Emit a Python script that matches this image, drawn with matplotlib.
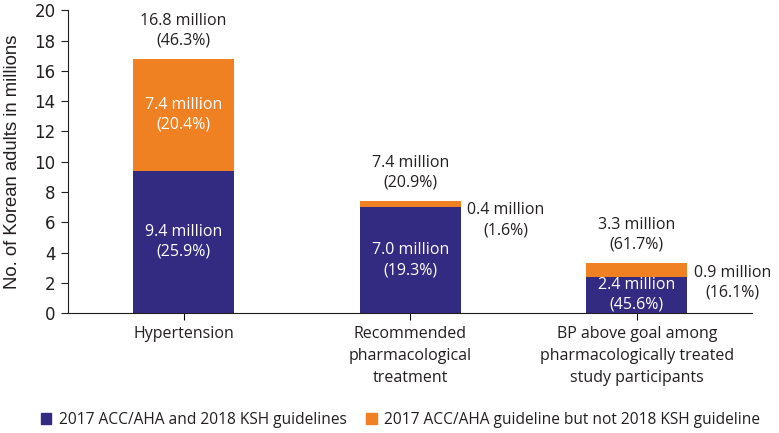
import matplotlib.pyplot as plt
from matplotlib.patches import Patch

categories = ["Hypertension",
              "Recommended\npharmacological\ntreatment",
              "BP above goal among\npharmacologically treated\nstudy participants"]
both = [9.4, 7.0, 2.4]
acc_only = [7.4, 0.4, 0.9]
both_labels = ["9.4 million\n(25.9%)", "7.0 million\n(19.3%)", "2.4 million\n(45.6%)"]
acc_labels = ["7.4 million\n(20.4%)", "0.4 million\n(1.6%)", "0.9 million\n(16.1%)"]
total_labels = ["16.8 million\n(46.3%)", "7.4 million\n(20.9%)", "3.3 million\n(61.7%)"]
legend_labels = ["2017 ACC/AHA and 2018 KSH guidelines",
                 "2017 ACC/AHA guideline but not 2018 KSH guideline"]

navy = "#332a82"
orange = "#ef8123"
txt = "#231f20"
fnt = "Open Sans"
fs = 11.5
ls = 1.32

fig = plt.figure(figsize=(7.79, 4.33), dpi=100)
ax = fig.add_axes([0.0867, 0.277, 0.879, 0.699])

x = list(range(len(categories)))
w = 0.445
ax.bar(x, both, width=w, color=navy)
ax.bar(x, acc_only, width=w, bottom=both, color=orange)

for i in x:
    total = both[i] + acc_only[i]
    # white labels inside the navy part
    ax.text(i, both[i] / 2, both_labels[i], ha="center", va="center",
            color="white", fontsize=fs, family=fnt, linespacing=ls)
    # total on top
    ax.annotate(total_labels[i], (i, total), xytext=(0, 7.5), textcoords="offset points",
                ha="center", va="bottom", color=txt, fontsize=fs, family=fnt,
                linespacing=ls)
    if i == 0:
        ax.text(i, both[i] + acc_only[i] / 2, acc_labels[i], ha="center", va="center",
                color="white", fontsize=fs, family=fnt, linespacing=ls)
    else:
        ax.annotate(acc_labels[i], (i + w / 2, total), xytext=(5, -1),
                    textcoords="offset points", ha="left", va="top",
                    multialignment="center", color=txt, fontsize=fs, family=fnt,
                    linespacing=ls)

ax.set_xlim(-0.512, 2.51)
ax.set_ylim(0, 20)
ax.set_yticks(range(0, 21, 2))
ax.set_xticks(x)
ax.set_xticklabels(categories, fontsize=fs, family=fnt, color=txt, linespacing=1.5)
ax.tick_params(axis="y", labelsize=12, colors=txt, length=5, width=0.8, pad=3.5)
ax.tick_params(axis="x", length=5, width=0.8, pad=4)
for lab in ax.get_yticklabels():
    lab.set_family("DejaVu Sans")
ax.set_ylabel("No. of Korean adults in millions", fontsize=13.3,
              family="Liberation Sans", color=txt, labelpad=10)
ax.spines["top"].set_visible(False)
ax.spines["right"].set_visible(False)
ax.spines["left"].set_color(txt)
ax.spines["bottom"].set_color(txt)

handles = [Patch(color=navy), Patch(color=orange)]
fig.legend(handles, legend_labels, loc="lower left", bbox_to_anchor=(0.052, 0.012),
           ncol=2, frameon=False, prop={"family": fnt, "size": 11.2},
           borderpad=0, borderaxespad=0,
           handlelength=0.7, handleheight=0.7, handletextpad=0.5, columnspacing=1.2,
           labelcolor=txt)

fig.savefig("out.png", dpi=100)
